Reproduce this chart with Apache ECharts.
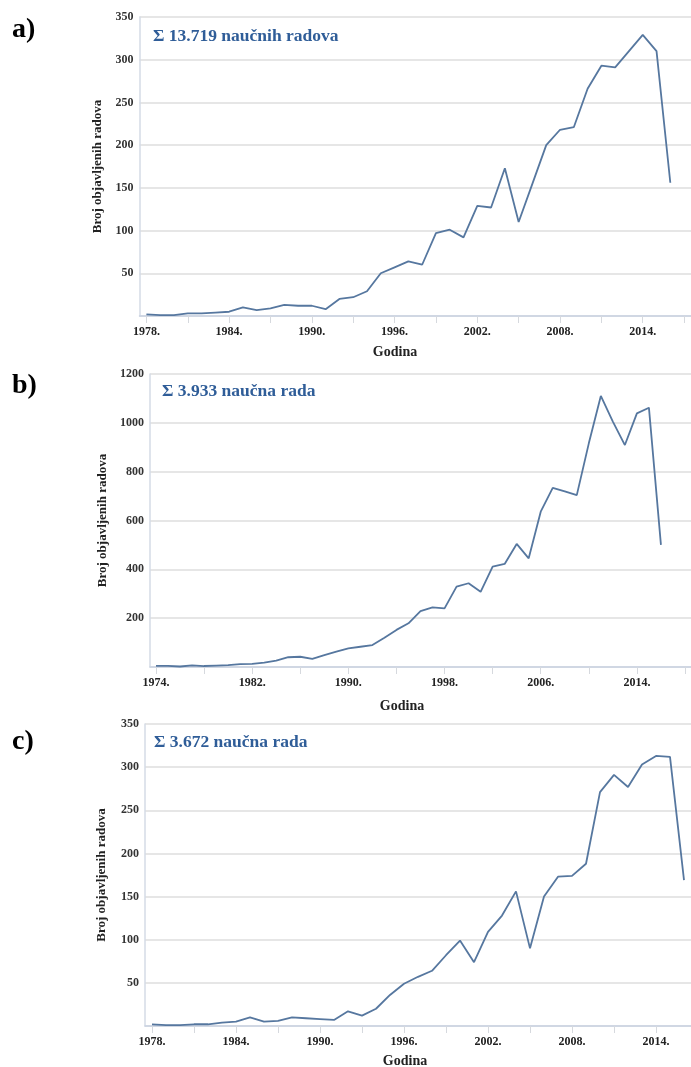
<!DOCTYPE html>
<html>
<head>
<meta charset="utf-8">
<title>Broj objavljenih radova po godinama</title>
<script src="https://cdn.jsdelivr.net/npm/echarts@6/dist/echarts.min.js"></script>
<style>
  html, body { margin: 0; padding: 0; background: #fff; }
  #chart { width: 691px; height: 1067px; }
</style>
</head>
<body>
<div id="chart"></div>
<script>
// Axis categories (years) for each panel
const yearsA = ['1978','1979','1980','1981','1982','1983','1984','1985','1986','1987','1988','1989','1990','1991','1992','1993','1994','1995','1996','1997','1998','1999','2000','2001','2002','2003','2004','2005','2006','2007','2008','2009','2010','2011','2012','2013','2014','2015','2016','2017'];
const yearsB = ['1974','1975','1976','1977','1978','1979','1980','1981','1982','1983','1984','1985','1986','1987','1988','1989','1990','1991','1992','1993','1994','1995','1996','1997','1998','1999','2000','2001','2002','2003','2004','2005','2006','2007','2008','2009','2010','2011','2012','2013','2014','2015','2016','2017','2018'];
const yearsC = ['1978','1979','1980','1981','1982','1983','1984','1985','1986','1987','1988','1989','1990','1991','1992','1993','1994','1995','1996','1997','1998','1999','2000','2001','2002','2003','2004','2005','2006','2007','2008','2009','2010','2011','2012','2013','2014','2015','2016'];

// Published papers per year
const papersA = [2,1,1,3,3,4,5,10,7,9,13,12,12,8,20,22,29,50,57,64,60,97,101,92,129,127,173,110,155,200,218,221,266,293,291,310,329,310,156];
const papersB = [5,5,2,7,4,6,8,12,13,18,26,40,42,33,49,63,76,83,90,120,152,179,229,244,240,329,343,308,411,422,504,445,636,734,719,704,916,1110,1005,909,1039,1062,500];
const papersC = [2,1,1,2,2,4,5,10,5,6,10,9,8,7,17,12,20,36,49,57,64,82,99,74,109,128,156,90,150,173,174,188,271,291,277,303,313,312,169];

// Panel texts
const panelLetters = ['a)', 'b)', 'c)'];
const panelTotals = ['Σ 13.719 naučnih radova', 'Σ 3.933 naučna rada', 'Σ 3.672 naučna rada'];
const yName = 'Broj objavljenih radova';
const xName = 'Godina';

const serif = "'Liberation Serif', 'DejaVu Serif', serif";
const lineColor = '#56779f';
const titleColor = '#2f5d98';

const grids = [
  { left: 139.5, top: 17, height: 299, right: -4 },
  { left: 150, top: 374, height: 293, right: -1 },
  { left: 145, top: 724, height: 302, right: 0 }
];

function xAxisFor(i, cats, labelEvery, tickEvery) {
  return {
    type: 'category', gridIndex: i, data: cats, boundaryGap: true,
    axisLine: { show: true, lineStyle: { color: '#c9d2e2', width: 1.5 } },
    axisTick: { show: true, alignWithLabel: true, interval: tickEvery - 1, length: 7, lineStyle: { color: '#d6d9de' } },
    axisLabel: { interval: labelEvery - 1, margin: 10, fontFamily: serif, fontWeight: 'bold', fontSize: 12, color: '#222', formatter: v => v + '.' },
    splitLine: { show: false }
  };
}

function yAxisFor(i, max, step, gap) {
  return {
    type: 'value', gridIndex: i, min: 0, max: max, interval: step,
    name: yName, nameLocation: 'middle', nameGap: gap, nameRotate: 90,
    nameTextStyle: { fontFamily: serif, fontWeight: 'bold', fontSize: 13, color: '#222' },
    axisLine: { show: true, lineStyle: { color: '#d5dbe6', width: 1.5 } },
    axisTick: { show: false },
    axisLabel: { margin: 6, fontFamily: serif, fontWeight: 'bold', fontSize: 12, color: '#333', formatter: v => (v === 0 ? '' : String(v)) },
    splitLine: { show: true, lineStyle: { color: '#dedede', width: 1.5 } }
  };
}

function lineSeries(i, values) {
  return {
    type: 'line', xAxisIndex: i, yAxisIndex: i, data: values,
    symbol: 'none', smooth: false, animation: false,
    lineStyle: { color: lineColor, width: 1.8 }
  };
}

const letterPos = [[12, 30], [12, 386], [12, 742]];
const totalPos = [[153, 36], [162, 391], [154, 742]];
const godinaPos = [[395, 352], [402, 706], [405, 1061]];

const graphics = [];
for (let i = 0; i < 3; i++) {
  graphics.push({ type: 'text', x: letterPos[i][0], y: letterPos[i][1],
    style: { text: panelLetters[i], font: 'bold 28px ' + serif, fill: '#000', verticalAlign: 'middle' } });
  graphics.push({ type: 'text', x: totalPos[i][0], y: totalPos[i][1],
    style: { text: panelTotals[i], font: 'bold 17.5px ' + serif, fill: titleColor, verticalAlign: 'middle' } });
  graphics.push({ type: 'text', x: godinaPos[i][0], y: godinaPos[i][1],
    style: { text: xName, font: 'bold 14px ' + serif, fill: '#222', align: 'center', verticalAlign: 'middle' } });
}

const chart = echarts.init(document.getElementById('chart'), null, { renderer: 'canvas' });
chart.setOption({
  animation: false,
  backgroundColor: '#ffffff',
  grid: grids,
  xAxis: [
    xAxisFor(0, yearsA, 6, 3),
    xAxisFor(1, yearsB, 8, 4),
    xAxisFor(2, yearsC, 6, 3)
  ],
  yAxis: [
    yAxisFor(0, 350, 50, 34),
    yAxisFor(1, 1200, 200, 37),
    yAxisFor(2, 350, 50, 37)
  ],
  series: [
    lineSeries(0, papersA),
    lineSeries(1, papersB),
    lineSeries(2, papersC)
  ],
  graphic: graphics
});
</script>
</body>
</html>
